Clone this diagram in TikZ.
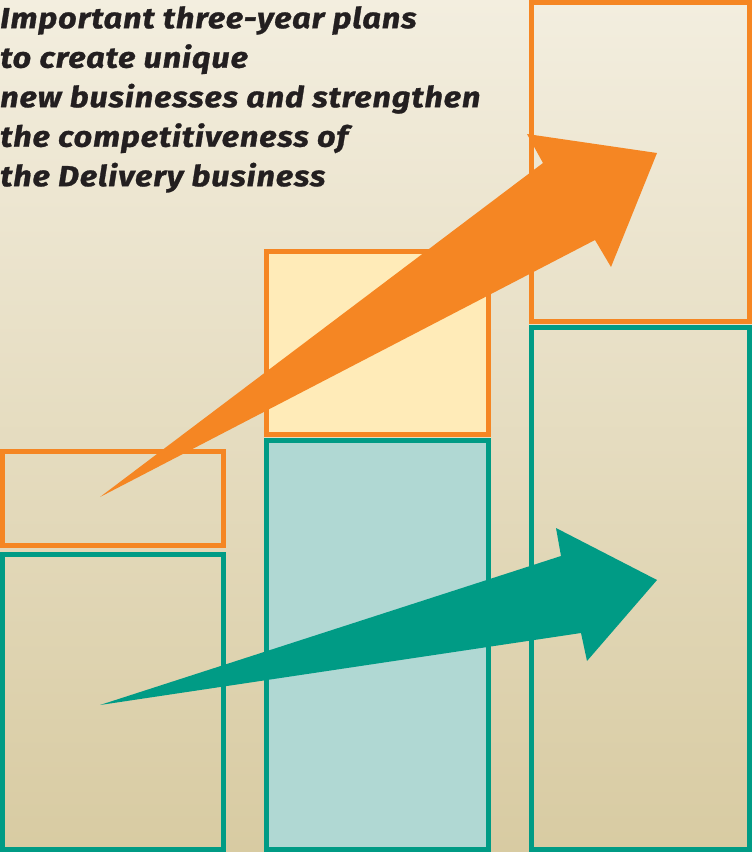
\documentclass[tikz,border=0pt]{standalone}
\usepackage{fontspec}
\setmainfont{Fira Sans}
\newfontfamily\titlefont[FakeStretch=1.12, LetterSpace=3, FakeBold=1]{Fira Sans}
\usepackage{xcolor}
\definecolor{planorange}{RGB}{245, 134, 35}
\definecolor{planteal}{RGB}{0, 155, 133}
\definecolor{paletop}{RGB}{243, 238, 223}
\definecolor{palebottom}{RGB}{216, 203, 162}
\definecolor{lightyellow}{RGB}{255, 235, 184}
\definecolor{lightteal}{RGB}{176, 216, 211}
\definecolor{titleink}{RGB}{35, 31, 32}

\begin{document}
\begin{tikzpicture}[x=1pt, y=-1pt,
    box/.style={line width=5pt}]
      % Background
      \fill[top color=paletop, bottom color=palebottom] (0,0) rectangle (752,852);
      \useasboundingbox (0,0) rectangle (752,852);

      % Boxes - upper part orange, lower part teal
      \foreach \xa/\xb/\ya/\yb/\yc/\yd/\fa/\fb in {2.5/223.5/451.5/545.5/554.5/849.5/none/none,
          266.5/488.5/251.5/434.5/440.5/849.5/lightyellow/lightteal,
          531.5/749.5/2.5/321.5/327.5/849.5/none/none} {
          \draw[box, planorange, fill=\fa] (\xa,\ya) rectangle (\xb,\yb);
          \draw[box, planteal, fill=\fb] (\xa,\yc) rectangle (\xb,\yd);
        }

      % Title
      \node[anchor=north west, inner sep=0pt, align=left,
        font=\titlefont\fontsize{29}{39.5}\selectfont\bfseries\itshape, text=titleink] (title) at (0,6)
        {Important three-year plans\\to create unique\\new businesses and strengthen\\the competitiveness of\\the Delivery business};

      % Arrows
      \fill[planorange] (100,497) -- (595,240) -- (611,267) -- (657,153)
        -- (527,134) -- (543,163) -- cycle;
      \fill[planteal] (100,705) -- (581,633) -- (587,661) -- (657,580)
        -- (556,528) -- (561,556) -- cycle;
    \end{tikzpicture}
\end{document}
